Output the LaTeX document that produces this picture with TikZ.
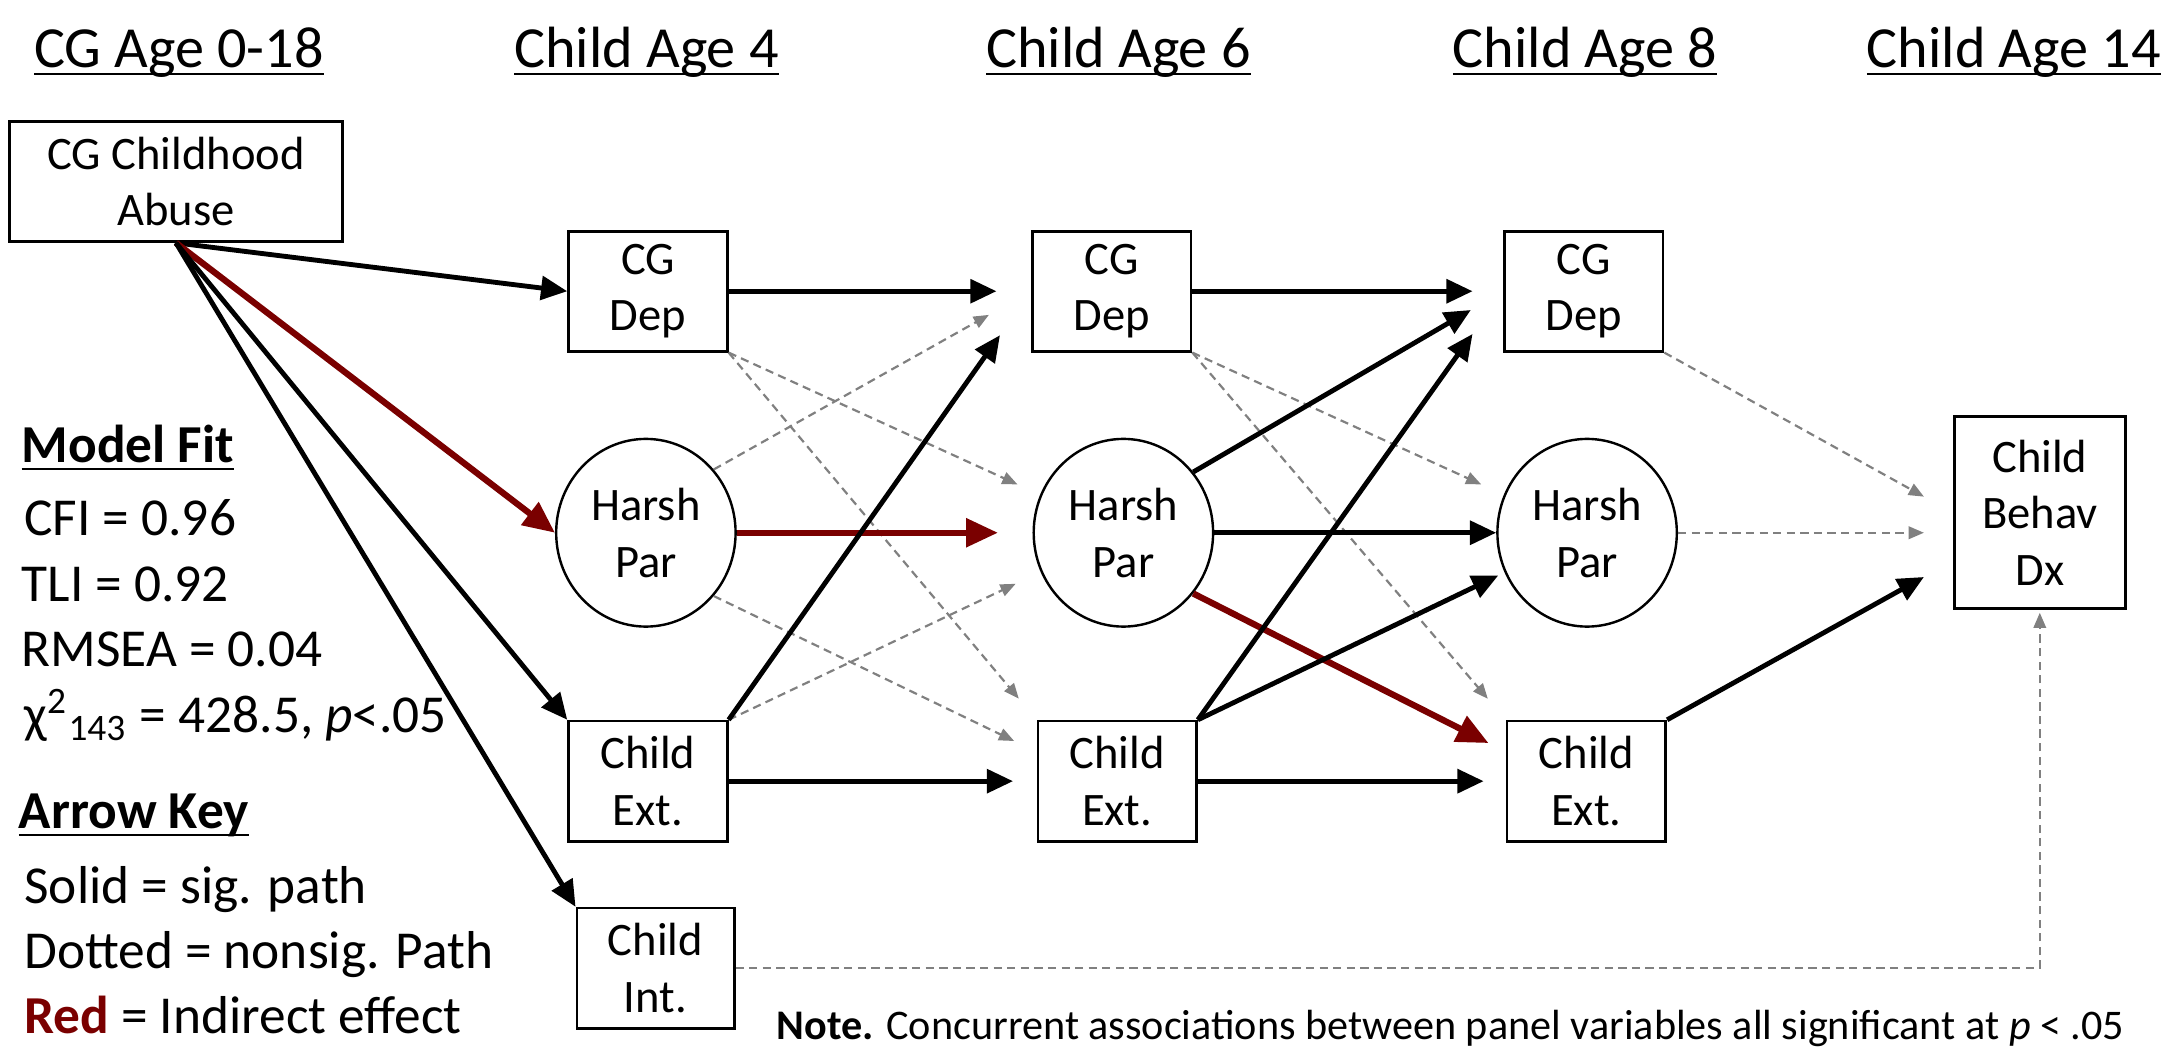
\documentclass[tikz,border=0pt]{standalone}
\usepackage{fontspec}
\setmainfont{Carlito}
\usetikzlibrary{arrows.meta,shapes.geometric}
\definecolor{indirect}{RGB}{122,0,0}
\definecolor{nsgray}{RGB}{128,128,128}
\tikzset{
  box/.style={draw, line width=0.55pt, minimum width=11.5mm, minimum height=8.7mm, inner sep=0pt, align=center, font=\fontsize{9.6}{11.7}\selectfont},
  latent/.style={ellipse, draw, line width=0.5pt, minimum width=13mm, minimum height=13.6mm, inner sep=0pt, align=center, font=\fontsize{9.6}{11.7}\selectfont},
  sig/.style={-{Triangle[length=1.9mm,width=1.7mm]}, line width=1pt},
  redpath/.style={-{Triangle[length=2.3mm,width=2mm]}, color=indirect, line width=1.3pt},
  nonsig/.style={-{Triangle[length=1.1mm,width=0.9mm]}, color=nsgray, line width=0.45pt, dash pattern=on 1.7pt off 1.1pt},
  hdr/.style={anchor=base west, inner sep=0pt, font=\fontsize{12}{14}\selectfont},
  txt/.style={anchor=base west, inner sep=0pt, font=\fontsize{11}{13}\selectfont}
}
\begin{document}
\begin{tikzpicture}[x=0.1mm, y=-0.1mm]
\useasboundingbox (0,0) rectangle (1568,760);

\node[hdr] (hdcg) at (24,49) {\underline{\smash{CG Age 0-18}}};
\node[hdr] (hdfour) at (372,49) {\underline{\smash{Child Age 4}}};
\node[hdr] (hdsix) at (714,49) {\underline{\smash{Child Age 6}}};
\node[hdr] (hdeight) at (1052,49) {\underline{\smash{Child Age 8}}};
\node[hdr] (hdfourteen) at (1352,49) {\underline{\smash{Child Age 14}}};

\node[box, minimum width=24.1mm] (abuse) at (127.5,131.5) {CG Childhood\\Abuse};
\node[box] (dep4) at (469.5,211) {CG\\Dep};
\node[latent] (harsh4) at (468,386) {Harsh\\Par};
\node[box] (ext4) at (469.5,566) {Child\\Ext.};
\node[box, minimum width=11.4mm] (int4) at (475,701.5) {Child\\Int.};
\node[box] (dep6) at (805.5,211) {CG\\Dep};
\node[latent] (harsh6) at (814,386) {Harsh\\Par};
\node[box] (ext6) at (809.5,566) {Child\\Ext.};
\node[box] (dep8) at (1147.5,211) {CG\\Dep};
\node[latent] (harsh8) at (1150,386) {Harsh\\Par};
\node[box] (ext8) at (1149.5,566) {Child\\Ext.};
\node[box, minimum width=12.4mm, minimum height=13.9mm] (behav) at (1478,371.5) {Child\\Behav\\Dx};

\node[txt] (fithead) at (15,335) {\textbf{\underline{\smash{Model Fit}}}};
\node[txt] (cfi) at (17,388) {CFI = 0.96};
\node[txt] (tli) at (15,436) {TLI = 0.92};
\node[txt] (rmsea) at (15,483) {RMSEA = 0.04};
\node[txt] (chisq) at (17,531) {χ\textsuperscript{2}\textsubscript{143} = 428.5, \textit{p}<.05};
\node[txt] (keyhead) at (13,600) {\textbf{\underline{\smash{Arrow Key}}}};
\node[txt] (keysolid) at (17,655) {Solid = sig. path};
\node[txt] (keydotted) at (17,702) {Dotted = nonsig. Path};
\node[txt] (keyred) at (17,749) {\textcolor{indirect}{\textbf{Red}} = Indirect effect};
\node[anchor=base west, inner sep=0pt, font=\fontsize{8.7}{10}\selectfont] (note) at (562,753) {\textbf{Note.} Concurrent associations between panel variables all significant at \textit{p} < .05};

\draw[sig] (abuse.south) -- (dep4.west);
\draw[redpath] (abuse.south) -- (harsh4.west);
\draw[sig] (abuse.south) -- (ext4.north west);
\draw[sig] (abuse.south) -- (int4.north west);

\draw[nonsig, shorten >=1.8mm] (dep4.south east) -- (harsh6);
\draw[nonsig, shorten >=2mm] (dep4.south east) -- (ext6.north west);
\draw[nonsig, shorten >=3.5mm] (harsh4.43) -- (dep6.west);
\draw[nonsig, shorten >=1.8mm] (harsh4.-43) -- (ext6.160);
\draw[nonsig, shorten >=2mm] (ext4.north east) -- (harsh6);
\draw[sig, shorten >=2.5mm] (dep4.east) -- (dep6.west);
\draw[redpath, shorten >=2.5mm] (harsh4.east) -- (harsh6.west);
\draw[sig, shorten >=1.7mm] (ext4.east) -- (ext6.west);
\draw[sig, shorten >=3.9mm] (ext4.north east) -- (dep6.west);

\draw[nonsig, shorten >=1.8mm] (dep6.south east) -- (harsh8);
\draw[nonsig, shorten >=2mm] (dep6.south east) -- (ext8.north west);
\draw[sig, shorten >=2.2mm] (dep6.east) -- (dep8.west);
\draw[sig, shorten >=2.7mm] (harsh6.41) -- (dep8.west);
\draw[sig] (harsh6.east) -- (harsh8.west);
\draw[redpath, shorten >=1.4mm] (harsh6.-41) -- (ext8.160);
\draw[sig, shorten >=3.8mm] (ext6.north east) -- (dep8.west);
\draw[sig, shorten >=0.5mm] (ext6.north east) -- (harsh8);
\draw[sig, shorten >=1.6mm] (ext6.east) -- (ext8.west);

\draw[nonsig, shorten >=2.4mm] (dep8.south east) -- (behav.west);
\draw[nonsig, shorten >=2.1mm] (harsh8.east) -- (harsh8.east -| behav.west);
\draw[sig, shorten >=2.4mm] (ext8.north east) -- (behav.209);
\draw[nonsig, shorten >=0.2mm] (int4.east) -| (behav.south);
\end{tikzpicture}
\end{document}
